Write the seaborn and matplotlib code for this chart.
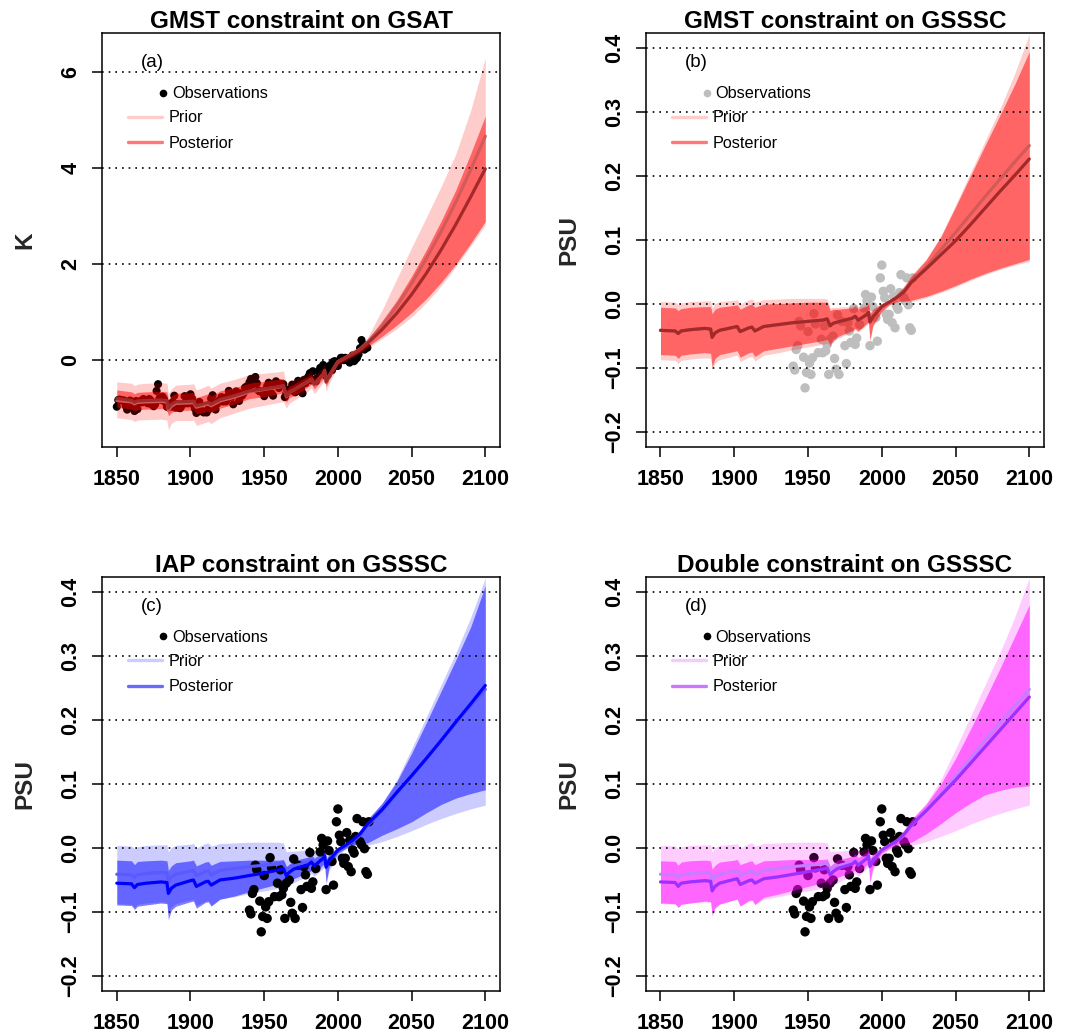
import numpy as np
import pandas as pd
import seaborn as sns
import matplotlib.pyplot as plt
from matplotlib.lines import Line2D

sns.set_theme(style="ticks", rc={"axes.edgecolor": "black", "xtick.color": "black",
                                 "ytick.color": "black", "text.color": "black"})
plt.rcParams['font.family'] = ['Liberation Sans', 'DejaVu Sans']

# model years (key points)
years = [1850, 1860, 1862, 1864, 1870, 1880, 1884, 1885, 1887, 1890,
         1900, 1902, 1904, 1910, 1912, 1914, 1920, 1930, 1940, 1950,
         1960, 1963, 1965, 1967, 1970, 1980, 1982, 1984, 1990, 1991,
         1992, 1994, 2000, 2005, 2010, 2015, 2020, 2030, 2040, 2050,
         2060, 2070, 2080, 2090, 2100]

# panel (a): GSAT, K
gsat_prior_mean = [-0.84, -0.87, -0.91, -0.88, -0.87, -0.86, -0.87, -1.05, -0.96, -0.90,
                   -0.89, -0.88, -0.98, -0.93, -0.91, -0.95, -0.85, -0.77, -0.66, -0.61,
                   -0.56, -0.54, -0.76, -0.67, -0.62, -0.44, -0.40, -0.51, -0.30, -0.22,
                   -0.46, -0.33, -0.03, 0.05, 0.14, 0.23, 0.37, 0.72, 1.13, 1.60,
                   2.12, 2.68, 3.30, 3.96, 4.67]
gsat_prior_hi = [-0.45, -0.48, -0.53, -0.50, -0.48, -0.47, -0.48, -0.70, -0.60, -0.52,
                 -0.50, -0.49, -0.62, -0.55, -0.52, -0.58, -0.48, -0.40, -0.30, -0.27,
                 -0.24, -0.22, -0.50, -0.42, -0.40, -0.26, -0.22, -0.32, -0.14, -0.06,
                 -0.30, -0.20, 0.04, 0.12, 0.21, 0.31, 0.47, 1.05, 1.70, 2.35,
                 2.98, 3.62, 4.30, 5.20, 6.30]
gsat_prior_lo = [-1.20, -1.24, -1.28, -1.25, -1.24, -1.23, -1.25, -1.45, -1.32, -1.26,
                 -1.26, -1.25, -1.36, -1.30, -1.28, -1.32, -1.20, -1.10, -1.00, -0.94,
                 -0.88, -0.86, -1.00, -0.90, -0.84, -0.64, -0.58, -0.70, -0.46, -0.38,
                 -0.66, -0.48, -0.12, -0.03, 0.06, 0.14, 0.25, 0.45, 0.66, 0.90,
                 1.20, 1.55, 1.95, 2.38, 2.82]
gsat_post_mean = [-0.80, -0.84, -0.88, -0.85, -0.84, -0.83, -0.84, -1.00, -0.92, -0.87,
                  -0.86, -0.85, -0.95, -0.90, -0.88, -0.92, -0.82, -0.74, -0.64, -0.60,
                  -0.55, -0.53, -0.75, -0.66, -0.62, -0.44, -0.40, -0.50, -0.30, -0.22,
                  -0.45, -0.33, -0.03, 0.05, 0.13, 0.22, 0.35, 0.64, 0.98, 1.37,
                  1.81, 2.30, 2.83, 3.40, 3.99]
gsat_post_hi = [-0.62, -0.66, -0.70, -0.67, -0.66, -0.65, -0.66, -0.84, -0.75, -0.69,
                -0.68, -0.67, -0.78, -0.72, -0.70, -0.75, -0.64, -0.57, -0.48, -0.44,
                -0.40, -0.38, -0.62, -0.54, -0.50, -0.33, -0.30, -0.40, -0.21, -0.14,
                -0.35, -0.25, 0.02, 0.10, 0.18, 0.27, 0.42, 0.82, 1.25, 1.75,
                2.30, 2.90, 3.55, 4.30, 5.09]
gsat_post_lo = [-0.98, -1.02, -1.06, -1.03, -1.02, -1.01, -1.02, -1.16, -1.09, -1.05,
                -1.04, -1.03, -1.12, -1.08, -1.06, -1.09, -1.00, -0.91, -0.80, -0.76,
                -0.70, -0.68, -0.88, -0.78, -0.74, -0.55, -0.50, -0.60, -0.39, -0.30,
                -0.55, -0.41, -0.08, 0.00, 0.08, 0.17, 0.28, 0.50, 0.73, 0.99,
                1.28, 1.62, 2.00, 2.43, 2.89]

# GMST observations 1850-2020
gmst_obs_years = list(range(1850, 2021))
gmst_obs = [-0.97, -0.83, -0.82, -0.84, -0.84, -0.84, -0.95, -1.03, -0.92, -0.84,
            -0.90, -0.97, -1.06, -0.85, -1.02, -0.88, -0.85, -0.88, -0.81, -0.85,
            -0.86, -0.90, -0.81, -0.84, -0.93, -0.96, -0.92, -0.64, -0.50, -0.79,
            -0.83, -0.76, -0.81, -0.88, -0.97, -0.98, -0.93, -0.97, -0.87, -0.74,
            -0.99, -0.92, -0.99, -1.00, -0.95, -0.91, -0.75, -0.76, -0.90, -0.78,
            -0.71, -0.80, -0.93, -1.01, -1.10, -0.95, -0.87, -1.05, -1.07, -1.09,
            -1.07, -1.09, -1.02, -1.01, -0.80, -0.73, -0.95, -1.03, -0.91, -0.85,
            -0.84, -0.77, -0.86, -0.84, -0.86, -0.76, -0.64, -0.76, -0.76, -0.92,
            -0.70, -0.65, -0.72, -0.85, -0.69, -0.74, -0.69, -0.57, -0.55, -0.57,
            -0.46, -0.39, -0.51, -0.47, -0.35, -0.48, -0.63, -0.65, -0.66, -0.66,
            -0.75, -0.62, -0.54, -0.47, -0.67, -0.69, -0.74, -0.50, -0.44, -0.52,
            -0.58, -0.49, -0.51, -0.50, -0.77, -0.69, -0.62, -0.61, -0.63, -0.51,
            -0.58, -0.67, -0.56, -0.43, -0.64, -0.59, -0.69, -0.41, -0.48, -0.39,
            -0.34, -0.27, -0.42, -0.23, -0.41, -0.44, -0.37, -0.23, -0.16, -0.28,
            -0.10, -0.14, -0.33, -0.31, -0.24, -0.10, -0.21, -0.03, -0.02, -0.12,
            -0.12, -0.02, 0.05, 0.05, 0.00, 0.05, 0.00, 0.02, -0.05, 0.02,
            0.10, -0.02, 0.02, 0.05, 0.12, 0.25, 0.42, 0.33, 0.22, 0.28,
            0.26]

# GSSSC prior (same model ensemble in panels b-d), PSU
sss_prior_mean = [-0.041, -0.042, -0.046, -0.042, -0.040, -0.038, -0.039, -0.052, -0.045, -0.041,
                  -0.036, -0.035, -0.043, -0.037, -0.036, -0.042, -0.035, -0.032, -0.029, -0.027,
                  -0.025, -0.023, -0.034, -0.030, -0.028, -0.022, -0.019, -0.025, -0.016, -0.013,
                  -0.028, -0.020, -0.004, 0.003, 0.010, 0.020, 0.035, 0.058, 0.085, 0.112,
                  0.140, 0.168, 0.195, 0.222, 0.248]
sss_prior_hi = [0.004, 0.003, -0.001, 0.002, 0.004, 0.005, 0.005, -0.006, 0.001, 0.004,
                0.006, 0.007, 0.000, 0.007, 0.008, 0.003, 0.007, 0.008, 0.009, 0.009,
                0.009, 0.008, -0.006, -0.005, -0.005, -0.003, 0.000, -0.005, 0.000, 0.003,
                -0.012, -0.007, 0.002, 0.006, 0.016, 0.028, 0.045, 0.070, 0.107, 0.155,
                0.205, 0.255, 0.305, 0.360, 0.422]
sss_prior_lo = [-0.087, -0.088, -0.093, -0.088, -0.086, -0.084, -0.085, -0.102, -0.092, -0.087,
                -0.081, -0.080, -0.090, -0.083, -0.082, -0.089, -0.080, -0.076, -0.071, -0.067,
                -0.063, -0.061, -0.066, -0.058, -0.054, -0.043, -0.040, -0.044, -0.032, -0.030,
                -0.058, -0.035, -0.012, -0.002, 0.003, 0.004, 0.004, 0.010, 0.018, 0.027,
                0.037, 0.046, 0.054, 0.061, 0.067]

# (b) GMST-constrained GSSSC
gmst_sss_mean = [-0.041, -0.042, -0.046, -0.042, -0.040, -0.038, -0.039, -0.052, -0.045, -0.041,
                 -0.036, -0.035, -0.043, -0.037, -0.036, -0.042, -0.035, -0.032, -0.029, -0.027,
                 -0.025, -0.023, -0.034, -0.030, -0.028, -0.022, -0.019, -0.025, -0.016, -0.013,
                 -0.028, -0.020, -0.004, 0.003, 0.010, 0.019, 0.034, 0.055, 0.077, 0.099,
                 0.124, 0.150, 0.176, 0.201, 0.227]
gmst_sss_hi = [-0.005, -0.006, -0.010, -0.007, -0.005, -0.004, -0.004, -0.015, -0.008, -0.005,
               -0.002, -0.001, -0.008, -0.001, 0.000, -0.005, 0.000, 0.001, 0.002, 0.003,
               0.003, 0.003, -0.010, -0.008, -0.008, -0.006, -0.003, -0.008, -0.003, 0.001,
               -0.015, -0.009, 0.001, 0.005, 0.015, 0.027, 0.043, 0.069, 0.105, 0.152,
               0.200, 0.248, 0.295, 0.343, 0.395]
gmst_sss_lo = [-0.079, -0.080, -0.085, -0.080, -0.078, -0.076, -0.077, -0.098, -0.085, -0.079,
               -0.074, -0.073, -0.083, -0.076, -0.075, -0.082, -0.073, -0.069, -0.065, -0.061,
               -0.057, -0.055, -0.063, -0.055, -0.051, -0.041, -0.038, -0.042, -0.030, -0.028,
               -0.056, -0.033, -0.011, -0.001, 0.004, 0.005, 0.006, 0.012, 0.020, 0.029,
               0.039, 0.048, 0.056, 0.063, 0.070]

# (c) IAP-constrained GSSSC
iap_sss_mean = [-0.055, -0.056, -0.062, -0.057, -0.055, -0.053, -0.054, -0.071, -0.063, -0.058,
                -0.051, -0.050, -0.060, -0.053, -0.052, -0.058, -0.050, -0.047, -0.043, -0.039,
                -0.034, -0.032, -0.043, -0.038, -0.033, -0.026, -0.022, -0.028, -0.016, -0.012,
                -0.030, -0.020, -0.003, 0.004, 0.012, 0.022, 0.037, 0.060, 0.087, 0.113,
                0.140, 0.168, 0.197, 0.225, 0.254]
iap_sss_hi = [-0.019, -0.020, -0.026, -0.021, -0.020, -0.019, -0.020, -0.035, -0.028, -0.023,
              -0.020, -0.019, -0.028, -0.022, -0.021, -0.027, -0.021, -0.020, -0.019, -0.019,
              -0.019, -0.018, -0.030, -0.025, -0.020, -0.014, -0.010, -0.016, -0.006, -0.002,
              -0.018, -0.010, 0.000, 0.005, 0.015, 0.027, 0.044, 0.070, 0.104, 0.148,
              0.196, 0.245, 0.294, 0.345, 0.410]
iap_sss_lo = [-0.089, -0.090, -0.096, -0.091, -0.089, -0.086, -0.087, -0.112, -0.097, -0.091,
              -0.084, -0.083, -0.094, -0.085, -0.084, -0.091, -0.080, -0.075, -0.068, -0.062,
              -0.056, -0.054, -0.060, -0.053, -0.048, -0.038, -0.035, -0.040, -0.026, -0.024,
              -0.054, -0.030, -0.008, -0.001, 0.005, 0.007, 0.008, 0.020, 0.030, 0.041,
              0.055, 0.068, 0.078, 0.085, 0.091]

# (d) double constraint on GSSSC
dbl_sss_mean = [-0.053, -0.054, -0.060, -0.055, -0.053, -0.051, -0.052, -0.067, -0.060, -0.055,
                -0.049, -0.048, -0.057, -0.051, -0.050, -0.055, -0.048, -0.045, -0.041, -0.037,
                -0.033, -0.031, -0.042, -0.037, -0.032, -0.025, -0.021, -0.027, -0.016, -0.012,
                -0.029, -0.020, -0.003, 0.004, 0.011, 0.021, 0.036, 0.058, 0.082, 0.106,
                0.132, 0.158, 0.184, 0.210, 0.236]
dbl_sss_hi = [-0.020, -0.021, -0.027, -0.022, -0.020, -0.019, -0.020, -0.033, -0.027, -0.022,
              -0.019, -0.018, -0.026, -0.021, -0.020, -0.026, -0.020, -0.019, -0.018, -0.018,
              -0.018, -0.017, -0.029, -0.024, -0.019, -0.013, -0.009, -0.015, -0.006, -0.002,
              -0.017, -0.010, 0.000, 0.005, 0.015, 0.027, 0.044, 0.068, 0.100, 0.140,
              0.185, 0.232, 0.280, 0.330, 0.380]
dbl_sss_lo = [-0.086, -0.087, -0.093, -0.088, -0.086, -0.083, -0.084, -0.106, -0.094, -0.088,
              -0.081, -0.080, -0.091, -0.082, -0.081, -0.088, -0.077, -0.072, -0.066, -0.060,
              -0.054, -0.052, -0.058, -0.051, -0.046, -0.037, -0.034, -0.039, -0.026, -0.024,
              -0.053, -0.030, -0.008, -0.001, 0.005, 0.008, 0.009, 0.022, 0.038, 0.055,
              0.070, 0.083, 0.090, 0.095, 0.097]

# IAP salinity observations
sss_obs_years = [1940, 1941, 1942, 1943, 1944, 1945, 1947, 1948, 1949, 1950,
                 1951, 1952, 1953, 1954, 1955, 1957, 1959, 1960, 1961, 1962,
                 1963, 1964, 1965, 1967, 1968, 1969, 1970, 1971, 1973, 1975,
                 1976, 1977, 1978, 1979, 1981, 1982, 1983, 1985, 1988, 1989,
                 1990, 1992, 1993, 1994, 1996, 1997, 1999, 2000, 2001, 2002,
                 2003, 2004, 2005, 2006, 2007, 2008, 2009, 2010, 2011, 2012,
                 2013, 2015, 2016, 2017, 2018, 2019, 2020, 2021]
sss_obs = [-0.097, -0.103, -0.071, -0.065, -0.027, -0.034, -0.083, -0.131, -0.107, -0.043,
           -0.092, -0.110, -0.084, -0.015, -0.031, -0.076, -0.055, -0.076, -0.034, -0.073,
           -0.063, -0.110, -0.055, -0.050, -0.085, -0.102, -0.017, -0.110, -0.027, -0.065,
           -0.093, -0.029, -0.042, -0.060, -0.007, -0.063, -0.053, -0.032, -0.006, 0.015,
           0.005, -0.065, 0.011, -0.004, -0.021, -0.058, 0.041, 0.061, 0.020, 0.010,
           -0.016, -0.024, -0.016, 0.024, -0.029, 0.012, -0.037, -0.003, -0.008, 0.018,
           0.046, 0.010, 0.005, 0.041, -0.001, -0.037, -0.041, 0.041]

xticks = [1850, 1900, 1950, 2000, 2050, 2100]
gsat_yticks = [0, 2, 4, 6]
gsat_ylabels = ['0', '2', '4', '6']
sss_yticks = [-0.2, -0.1, 0.0, 0.1, 0.2, 0.3, 0.4]
sss_ylabels = ['\u22120.2', '\u22120.1', '0.0', '0.1', '0.2', '0.3', '0.4']

reds = dict(base='#FF0000', prior_line='#D45A5A', post_line='#A32A2A',
            leg_prior='#FFCCCC', leg_post='#FF7676')
blues = dict(base='#0000FF', prior_line='#5A5AFF', post_line='#0000FF',
             leg_prior='#CCCCFF', leg_post='#6A6AFF')
pinks = dict(base='#FF00FF', prior_line='#C77DFF', post_line='#9B30FF',
             leg_prior='#F3CCFF', leg_post='#C87AFF')


def draw_panel(ax, title, tag, ylab, prior, post, obs_x, obs_y, obs_col, obs_size,
               cols, obs_on_top, ylim, yticks, ylabels):
    df = pd.DataFrame({'year': years, 'pm': prior[0], 'plo': prior[1], 'phi': prior[2],
                       'qm': post[0], 'qlo': post[1], 'qhi': post[2]})
    obs = pd.DataFrame({'year': obs_x, 'value': obs_y})

    # uncertainty ranges
    ax.fill_between(df['year'], df['plo'], df['phi'], color=cols['base'], alpha=0.2,
                    lw=0, zorder=2)
    ax.fill_between(df['year'], df['qlo'], df['qhi'], color=cols['base'], alpha=0.5,
                    lw=0, zorder=2.1)
    sns.scatterplot(data=obs, x='year', y='value', ax=ax, color=obs_col, s=obs_size,
                    edgecolor='none', linewidth=0, zorder=4 if obs_on_top else 1.5,
                    legend=False)
    for t in yticks:
        ax.axhline(t, color='black', lw=1.2, ls=(0, (1, 3)), zorder=3)
    sns.lineplot(data=df, x='year', y='pm', ax=ax, color=cols['prior_line'], lw=2.3,
                 zorder=5, legend=False)
    sns.lineplot(data=df, x='year', y='qm', ax=ax, color=cols['post_line'], lw=2.3,
                 zorder=5.1, legend=False)

    ax.set_xlim(1840, 2110)
    ax.set_ylim(*ylim)
    ax.set_xticks(xticks, labels=[str(x) for x in xticks], fontweight='bold', fontsize=15.5)
    ax.set_yticks(yticks, labels=ylabels, fontweight='bold', fontsize=15.5,
                  rotation=90, va='center')
    ax.tick_params(axis='both', direction='out', length=7, width=1.1)
    ax.tick_params(axis='x', pad=9)
    ax.tick_params(axis='y', pad=8)
    for sp in ax.spines.values():
        sp.set_linewidth(1.1)
        sp.set_color('black')

    ax.set_title(title, fontsize=17.5, fontweight='bold', pad=2.5)
    ax.set_xlabel('')
    ax.set_ylabel(ylab, fontsize=17.5, fontweight='bold')
    ax.yaxis.set_label_coords(-0.164, 0.5)
    ax.text(0.126, 0.928, tag, transform=ax.transAxes, ha='center', va='center',
            fontsize=13.5)

    # legend: observations on their own row, then the two ranges
    h_obs = [Line2D([], [], ls='none', marker='o', markersize=5.5, color=obs_col,
                    markeredgewidth=0)]
    leg1 = ax.legend(h_obs, ['Observations'], loc='upper left', bbox_to_anchor=(0.1407, 0.871),
                     frameon=False, fontsize=11.7, handlelength=0.6, handletextpad=0.26,
                     borderpad=0, borderaxespad=0)
    ax.add_artist(leg1)
    h_lines = [Line2D([], [], color=cols['leg_prior'], lw=2.4),
               Line2D([], [], color=cols['leg_post'], lw=2.4)]
    ax.legend(h_lines, ['Prior', 'Posterior'], loc='upper left', bbox_to_anchor=(0.0653, 0.813),
              frameon=False, fontsize=11.7, handlelength=2.09, handletextpad=0.43,
              labelspacing=0.62, borderpad=0, borderaxespad=0)


fig = plt.figure(figsize=(10.88, 10.35), dpi=100)
ax_a = fig.add_axes([0.0938, 0.5681, 0.3658, 0.4000])
ax_b = fig.add_axes([0.5935, 0.5681, 0.3661, 0.4000])
ax_c = fig.add_axes([0.0938, 0.0425, 0.3658, 0.4003])
ax_d = fig.add_axes([0.5935, 0.0425, 0.3661, 0.4003])

sss_prior = (sss_prior_mean, sss_prior_lo, sss_prior_hi)
sss_ylim = (-0.2235, 0.424)

draw_panel(ax_a, 'GMST constraint on GSAT', '(a)', 'K',
           (gsat_prior_mean, gsat_prior_lo, gsat_prior_hi),
           (gsat_post_mean, gsat_post_lo, gsat_post_hi),
           gmst_obs_years, gmst_obs, 'black', 34, reds, False,
           (-1.81, 6.82), gsat_yticks, gsat_ylabels)
draw_panel(ax_b, 'GMST constraint on GSSSC', '(b)', 'PSU', sss_prior,
           (gmst_sss_mean, gmst_sss_lo, gmst_sss_hi),
           sss_obs_years, sss_obs, '#BEBEBE', 46, reds, False,
           sss_ylim, sss_yticks, sss_ylabels)
draw_panel(ax_c, 'IAP constraint on GSSSC', '(c)', 'PSU', sss_prior,
           (iap_sss_mean, iap_sss_lo, iap_sss_hi),
           sss_obs_years, sss_obs, 'black', 46, blues, True,
           sss_ylim, sss_yticks, sss_ylabels)
draw_panel(ax_d, 'Double constraint on GSSSC', '(d)', 'PSU', sss_prior,
           (dbl_sss_mean, dbl_sss_lo, dbl_sss_hi),
           sss_obs_years, sss_obs, 'black', 46, pinks, False,
           sss_ylim, sss_yticks, sss_ylabels)

fig.savefig('out.png', dpi=100)
